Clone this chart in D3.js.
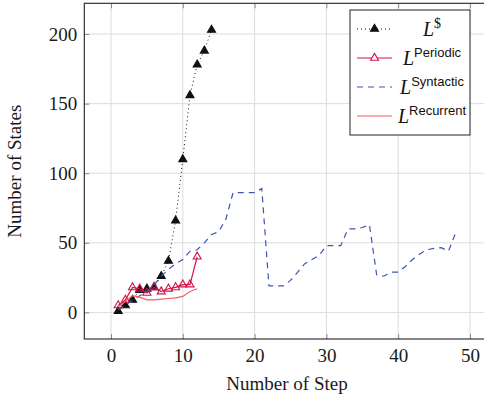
<!DOCTYPE html>
<html>
<head>
<meta charset="utf-8">
<script src="https://cdn.jsdelivr.net/npm/d3@7"></script>
<style>
  body { margin: 0; background: #fff; }
  svg { display: block; }
</style>
</head>
<body>
<div id="chart"></div>
<script>
// chart.js

const w = 484;
const h = 401;

// data
const dollarSteps = d3.range(1, 15);
const dollarStates = [1, 5, 9, 16, 17, 18, 26, 37, 66, 110, 156, 178, 188, 203];

const periodicSteps = d3.range(1, 13);
const periodicStates = [5, 9, 18, 17, 14, 18, 15, 17, 18, 20, 20, 40];

const syntacticSteps = d3.range(1, 49);
const syntacticStates = [2, 5, 9, 12, 15, 20, 26, 31, 35, 38, 44, 45, 50, 56, 58, 67,
    86, 86, 86, 86, 89, 19, 19, 19, 23, 29, 35, 38, 41, 48, 48, 48,
    60, 60, 61, 63, 27, 26, 29, 29, 33, 38, 42, 45, 46, 46.5, 44, 57];

const recurrentSteps = d3.range(1, 13);
const recurrentStates = [4, 8, 12, 11, 9, 9, 9.5, 10, 10.5, 11.5, 15, 17];

const xTicks = [0, 10, 20, 30, 40, 50];
const yTicks = [0, 50, 100, 150, 200];

const serif = "'Liberation Serif', 'Times New Roman', serif";
const sans = "'Liberation Sans', Arial, sans-serif";

const svg = d3.select("#chart")
    .append("svg")
    .attr("width", w)
    .attr("height", h);

// plot area (right edge runs off the picture like the original)
const pL = 84.3, pR = 489.5, pT = 3.3, pB = 339;

const x = d3.scaleLinear().domain([-3.72, 52.72]).range([pL, pR]);
const y = d3.scaleLinear().domain([-19.1, 222.1]).range([pB, pT]);

// grid
svg.append("g").selectAll("line")
    .data(xTicks)
    .join("line")
    .attr("x1", d => x(d)).attr("x2", d => x(d))
    .attr("y1", pT).attr("y2", pB)
    .attr("stroke", "#dcdcdc").attr("stroke-width", 1);

svg.append("g").selectAll("line")
    .data(yTicks)
    .join("line")
    .attr("x1", pL).attr("x2", pR)
    .attr("y1", d => y(d)).attr("y2", d => y(d))
    .attr("stroke", "#dcdcdc").attr("stroke-width", 1);

// axes, ticks pointing inward
svg.append("g")
    .attr("transform", `translate(0,${pB})`)
    .call(d3.axisBottom(x).tickValues(xTicks).tickSize(-5).tickPadding(10).tickSizeOuter(0));

svg.append("g")
    .attr("transform", `translate(${pL},0)`)
    .call(d3.axisLeft(y).tickValues(yTicks).tickSize(-5).tickPadding(7).tickSizeOuter(0));

svg.append("g")
    .attr("transform", `translate(0,${pT})`)
    .call(d3.axisTop(x).tickValues(xTicks).tickSize(-5).tickFormat("").tickSizeOuter(0));

svg.append("g")
    .attr("transform", `translate(${pR},0)`)
    .call(d3.axisRight(y).tickValues(yTicks).tickSize(-5).tickFormat("").tickSizeOuter(0));

svg.selectAll(".domain").remove();
svg.selectAll(".tick line").attr("stroke", "#8a8a8a");
svg.selectAll(".tick text")
    .attr("font-family", serif)
    .attr("font-size", 19)
    .attr("fill", "#1a1a1a");

// frame
svg.append("rect")
    .attr("x", pL).attr("y", pT)
    .attr("width", pR - pL).attr("height", pB - pT)
    .attr("fill", "none")
    .attr("stroke", "#222")
    .attr("stroke-width", 1.1);

// axis titles
svg.append("text")
    .attr("x", 287).attr("y", 390)
    .attr("text-anchor", "middle")
    .attr("font-family", serif).attr("font-size", 19)
    .attr("fill", "#1a1a1a")
    .text("Number of Step");

svg.append("text")
    .attr("transform", `translate(21,${(pT + pB) / 2}) rotate(-90)`)
    .attr("text-anchor", "middle")
    .attr("font-family", serif).attr("font-size", 19)
    .attr("fill", "#1a1a1a")
    .text("Number of States");

const line = d3.line().x(d => x(d[0])).y(d => y(d[1]));
const tri = d3.symbol().type(d3.symbolTriangle).size(28);

const series = [
    { key: "$", steps: dollarSteps, vals: dollarStates, color: "#111", dash: "1,3", width: 1, marker: "fill" },
    { key: "Periodic", steps: periodicSteps, vals: periodicStates, color: "#d0144a", dash: null, width: 1.2, marker: "open" },
    { key: "Syntactic", steps: syntacticSteps, vals: syntacticStates, color: "#3e53b8", dash: "6,5", width: 1.2, marker: null },
    { key: "Recurrent", steps: recurrentSteps, vals: recurrentStates, color: "#f06060", dash: null, width: 1.2, marker: null }
];

const plot = svg.append("g");

series.forEach(s => {
    const pts = s.steps.map((st, i) => [st, s.vals[i]]);
    plot.append("path")
        .attr("d", line(pts))
        .attr("fill", "none")
        .attr("stroke", s.color)
        .attr("stroke-width", s.width)
        .attr("stroke-dasharray", s.dash);

    if (s.marker) {
        plot.append("g").selectAll("path")
            .data(pts)
            .join("path")
            .attr("d", tri)
            .attr("transform", d => `translate(${x(d[0])},${y(d[1])})`)
            .attr("fill", s.marker === "fill" ? s.color : "none")
            .attr("stroke", s.color)
            .attr("stroke-width", 1.1);
    }
});

// legend
const lg = svg.append("g");
lg.append("rect")
    .attr("x", 350).attr("y", 10)
    .attr("width", 120).attr("height", 125)
    .attr("fill", "#fff")
    .attr("stroke", "#222")
    .attr("stroke-width", 1);

series.forEach((s, i) => {
    const ry = 29 + i * 29;
    lg.append("line")
        .attr("x1", 357).attr("x2", 392)
        .attr("y1", ry).attr("y2", ry)
        .attr("stroke", s.color)
        .attr("stroke-width", s.width)
        .attr("stroke-dasharray", s.dash);
    if (s.marker) {
        lg.append("path")
            .attr("d", tri)
            .attr("transform", `translate(374.5,${ry})`)
            .attr("fill", s.marker === "fill" ? s.color : "#fff")
            .attr("stroke", s.color)
            .attr("stroke-width", 1.1);
    }
    const t = lg.append("text")
        .attr("x", 432).attr("y", ry + 7)
        .attr("text-anchor", "middle")
        .attr("fill", "#111");
    t.append("tspan")
        .attr("font-family", serif)
        .attr("font-style", "italic")
        .attr("font-size", 20)
        .text("L");
    t.append("tspan")
        .attr("dy", -8)
        .attr("font-family", s.key === "$" ? serif : sans)
        .attr("font-size", s.key === "$" ? 14 : 13)
        .text(s.key);
});
</script>
</body>
</html>
